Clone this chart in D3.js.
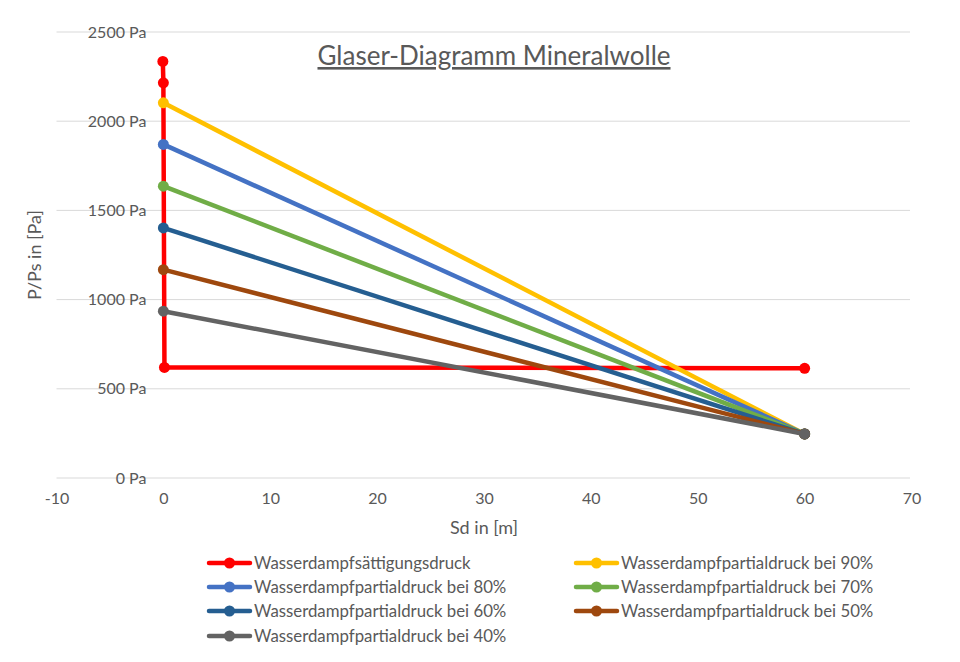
<!DOCTYPE html>
<html><head><meta charset="utf-8">
<script src="https://cdn.jsdelivr.net/npm/d3@7"></script>
<style>body{margin:0;background:#fff}svg{display:block}</style>
</head><body><svg id="c" width="960" height="662"></svg>
<script>
const title = "Glaser-Diagramm Mineralwolle";
const xTicks = [-10,0,10,20,30,40,50,60,70];
const yTicks = [0,500,1000,1500,2000,2500];
const seriesNames = ["Wasserdampfsättigungsdruck","Wasserdampfpartialdruck bei 90%","Wasserdampfpartialdruck bei 80%","Wasserdampfpartialdruck bei 70%","Wasserdampfpartialdruck bei 60%","Wasserdampfpartialdruck bei 50%","Wasserdampfpartialdruck bei 40%"];
const seriesColors = ["#FF0000","#FFC000","#4472C4","#70AD47","#255E91","#9E480E","#636363"];
const satX = [-0.05, 0, 0.1, 60];
const satY = [2335, 2215, 620, 615];
const partialX = [0, 60];
const p90 = [2103, 247];
const p80 = [1870, 247];
const p70 = [1636, 247];
const p60 = [1402, 247];
const p50 = [1168, 247];
const p40 = [935, 247];

const series = [
  {x: satX, y: satY},
  {x: partialX, y: p90},
  {x: partialX, y: p80},
  {x: partialX, y: p70},
  {x: partialX, y: p60},
  {x: partialX, y: p50},
  {x: partialX, y: p40}
];

const svg = d3.select("#c");
const font = "Lato, 'Open Sans', sans-serif";
const txt = "#595959";
const x = d3.scaleLinear().domain([-10,70]).range([56.5,911.5]);
const y = d3.scaleLinear().domain([0,2500]).range([478,32]);

// gridlines
svg.append("g").selectAll("line").data(yTicks).join("line")
  .attr("x1", x(-10)).attr("x2", 910)
  .attr("y1", d=>y(d)).attr("y2", d=>y(d))
  .attr("stroke","#d9d9d9").attr("stroke-width",1);

// y axis labels (axis crosses at x=0)
const yAxis = d3.axisLeft(y).tickValues(yTicks).tickSize(0).tickPadding(17).tickFormat(d=>d+" Pa");
const yg = svg.append("g").attr("transform",`translate(${x(0)},0)`).call(yAxis);
yg.select(".domain").remove();
yg.selectAll("text").attr("fill",txt).style("font-family",font).style("font-size","16px");

// x axis labels
const xAxis = d3.axisBottom(x).tickValues(xTicks).tickSize(0).tickPadding(15).tickFormat(d=>d);
const xg = svg.append("g").attr("transform",`translate(0,${y(0)})`).call(xAxis);
xg.select(".domain").remove();
xg.selectAll("text").attr("fill",txt).style("font-family",font).style("font-size","16px");

// axis titles
svg.append("text").attr("x",x(30)).attr("y",534).attr("text-anchor","middle")
  .attr("fill",txt).style("font-family",font).style("font-size","18px").text("Sd in [m]");
svg.append("text").attr("transform",`translate(41,${y(1250)}) rotate(-90)`).attr("text-anchor","middle")
  .attr("fill",txt).style("font-family",font).style("font-size","18px").text("P/Ps in [Pa]");

// title
svg.append("text").attr("x",494).attr("y",65).attr("text-anchor","middle")
  .attr("fill",txt).style("font-family",font).style("font-size","26px")
  .style("text-decoration","underline").text(title);

// series
const line = d3.line().x(d=>x(d[0])).y(d=>y(d[1]));
series.forEach((s,i)=>{
  const pts = s.x.map((v,j)=>[v, s.y[j]]);
  const g = svg.append("g");
  g.append("path").attr("d", line(pts)).attr("fill","none")
    .attr("stroke", seriesColors[i]).attr("stroke-width",4.5).attr("stroke-linejoin","round");
  g.selectAll("circle").data(pts).join("circle")
    .attr("cx", d=>x(d[0])).attr("cy", d=>y(d[1])).attr("r",5.5)
    .attr("fill", seriesColors[i]);
});

// legend
const legX = [209, 576];
const legY = [563, 587, 611, 636];
seriesNames.forEach((n,i)=>{
  const lx = legX[i%2], ly = legY[Math.floor(i/2)];
  const g = svg.append("g");
  g.append("line").attr("x1",lx).attr("x2",lx+41).attr("y1",ly).attr("y2",ly)
    .attr("stroke",seriesColors[i]).attr("stroke-width",4.5).attr("stroke-linecap","round");
  g.append("circle").attr("cx",lx+20.5).attr("cy",ly).attr("r",5.5).attr("fill",seriesColors[i]);
  g.append("text").attr("x",lx+45).attr("y",ly+6).attr("fill",txt)
    .style("font-family",font).style("font-size","16.8px").text(n);
});
</script></body></html>
